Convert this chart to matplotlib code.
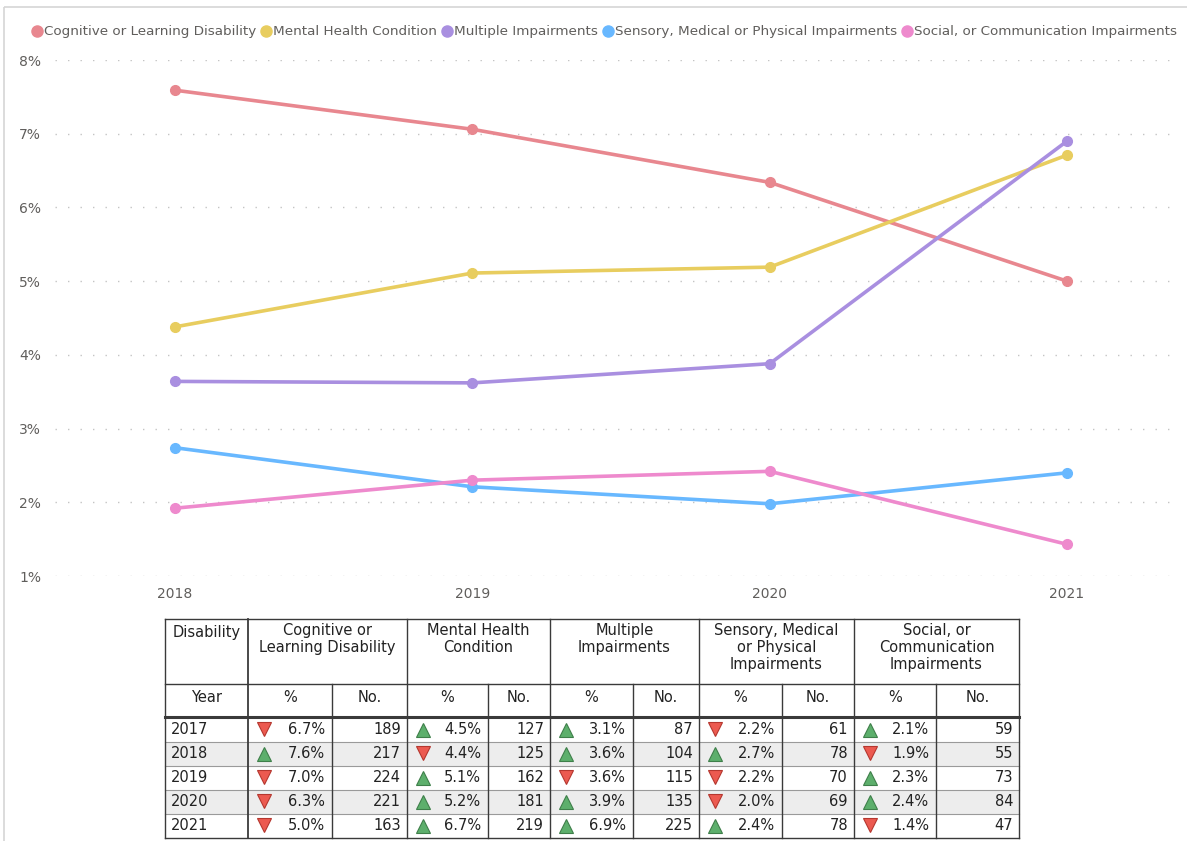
import matplotlib
matplotlib.use('Agg')
import matplotlib.pyplot as plt
from matplotlib.patches import Rectangle

plt.rcParams['font.family'] = ['DejaVu Sans']

years = [2018, 2019, 2020, 2021]
series_names = ['Cognitive or Learning Disability', 'Mental Health Condition', 'Multiple Impairments',
                'Sensory, Medical or Physical Impairments', 'Social, or Communication Impairments']
colors = ['#E8878F', '#E8CD5F', '#A98FE0', '#68B8FF', '#EE8ACD']

cognitive = [7.59, 7.06, 6.34, 5.00]
mental = [4.38, 5.11, 5.19, 6.71]
multiple = [3.64, 3.62, 3.88, 6.90]
sensory = [2.74, 2.21, 1.98, 2.40]
social = [1.92, 2.30, 2.42, 1.43]
series = [cognitive, mental, multiple, sensory, social]

y_ticks = [1, 2, 3, 4, 5, 6, 7, 8]

# table data
table_headers = ['Cognitive or\nLearning Disability', 'Mental Health\nCondition', 'Multiple\nImpairments',
                 'Sensory, Medical\nor Physical\nImpairments', 'Social, or\nCommunication\nImpairments']
table_years = ['2017', '2018', '2019', '2020', '2021']
table_pct = [
    ['6.7%', '4.5%', '3.1%', '2.2%', '2.1%'],
    ['7.6%', '4.4%', '3.6%', '2.7%', '1.9%'],
    ['7.0%', '5.1%', '3.6%', '2.2%', '2.3%'],
    ['6.3%', '5.2%', '3.9%', '2.0%', '2.4%'],
    ['5.0%', '6.7%', '6.9%', '2.4%', '1.4%'],
]
table_no = [
    ['189', '127', '87', '61', '59'],
    ['217', '125', '104', '78', '55'],
    ['224', '162', '115', '70', '73'],
    ['221', '181', '135', '69', '84'],
    ['163', '219', '225', '78', '47'],
]
table_dir = [
    ['down', 'up', 'up', 'down', 'up'],
    ['up', 'down', 'up', 'up', 'down'],
    ['down', 'up', 'down', 'down', 'up'],
    ['down', 'up', 'up', 'down', 'up'],
    ['down', 'up', 'up', 'up', 'down'],
]

W, H = 1187, 841
fig = plt.figure(figsize=(W / 100, H / 100), dpi=100)

# overlay axes in pixel coords for frame, legend and table
bg = fig.add_axes([0, 0, 1, 1])
bg.set_xlim(0, W)
bg.set_ylim(H, 0)
bg.axis('off')
bg.add_patch(Rectangle((4, 7), W, H, fill=False, edgecolor='#D6D6D6', lw=1.2))

# line chart
ax = fig.add_axes([55 / W, 1 - 576 / H, (1180 - 55) / W, (576 - 60) / H])
for name, vals, c in zip(series_names, series, colors):
    ax.plot(years, vals, color=c, lw=2.6, marker='o', ms=7, solid_capstyle='round', zorder=3)
ax.set_ylim(1, 8)
ax.set_xlim(2017.596, 2021.38)
ax.set_yticks(y_ticks)
ax.set_yticklabels([f'{t}%' for t in y_ticks])
ax.set_xticks(years)
ax.set_xticklabels([str(y) for y in years])
ax.grid(axis='y', color='#C4C4C4', lw=1, linestyle=(0, (1, 8)))
ax.set_axisbelow(True)
for s in ax.spines.values():
    s.set_visible(False)
ax.tick_params(length=0, labelsize=10, colors='#605E5C')
ax.tick_params(axis='x', pad=8)
ax.tick_params(axis='y', pad=10)

# legend
fig.canvas.draw()
renderer = fig.canvas.get_renderer()
lx = 37
for name, c in zip(series_names, colors):
    bg.plot(lx, 31, 'o', color=c, ms=8)
    t = bg.text(lx + 7, 31, name, fontsize=9.7, color='#605E5C', va='center', ha='left')
    bb = t.get_window_extent(renderer=renderer)
    lx = bb.x1 + 10

# table
col_x = [165, 248, 332, 407, 488, 550, 633, 699, 782, 854, 936, 1019]
top, h1, h2 = 619, 684, 717
row_h = 24
line_c = '#3A3A3A'
for i in range(len(table_years)):
    y0 = h2 + 1 + i * row_h
    if i % 2 == 1:
        bg.add_patch(Rectangle((col_x[0], y0), col_x[-1] - col_x[0], row_h, color='#EDEDED', lw=0))
bottom = h2 + 1 + len(table_years) * row_h

# horizontal lines
bg.plot([col_x[0], col_x[-1]], [top, top], color=line_c, lw=1)
bg.plot([col_x[0], col_x[-1]], [h1, h1], color=line_c, lw=1)
bg.plot([col_x[0], col_x[-1]], [h2, h2], color=line_c, lw=2.2)
for i in range(1, len(table_years)):
    y0 = h2 + 1 + i * row_h
    bg.plot([col_x[0], col_x[-1]], [y0, y0], color='#9A9A9A', lw=0.8)
bg.plot([col_x[0], col_x[-1]], [bottom, bottom], color=line_c, lw=1)
# vertical lines
for j, x in enumerate(col_x):
    if j in (0, 11) or j % 2 == 1:
        bg.plot([x, x], [top, bottom], color=line_c, lw=1.3 if j == 1 else 1)
    else:
        bg.plot([x, x], [h1, bottom], color=line_c, lw=1)

fs = 10.5
tc = '#222222'
bg.text((col_x[0] + col_x[1]) / 2, 632, 'Disability', ha='center', va='center', fontsize=fs, color=tc)
bg.text((col_x[0] + col_x[1]) / 2, 697, 'Year', ha='center', va='center', fontsize=fs, color=tc)
for k, head in enumerate(table_headers):
    xa, xb, xc = col_x[1 + 2 * k], col_x[2 + 2 * k], col_x[3 + 2 * k]
    bg.text((xa + xc) / 2, 623, head, ha='center', va='top', fontsize=fs, color=tc, linespacing=1.15)
    bg.text((xa + xb) / 2, 697, '%', ha='center', va='center', fontsize=fs, color=tc)
    bg.text((xb + xc) / 2, 697, 'No.', ha='center', va='center', fontsize=fs, color=tc)

for i, yr in enumerate(table_years):
    yc = h2 + 1 + i * row_h + row_h / 2
    bg.text(col_x[0] + 6, yc, yr, ha='left', va='center', fontsize=fs, color=tc)
    for k in range(5):
        xa, xb, xc = col_x[1 + 2 * k], col_x[2 + 2 * k], col_x[3 + 2 * k]
        if table_dir[i][k] == 'up':
            bg.plot(xa + 16, yc, marker='^', ms=10, color='#5DAF6C', mec='#3F7F4A', mew=0.8)
        else:
            bg.plot(xa + 16, yc - 1, marker='v', ms=10, color='#EC5A50', mec='#B5372F', mew=0.8)
        bg.text(xb - 7, yc, table_pct[i][k], ha='right', va='center', fontsize=fs, color=tc)
        bg.text(xc - 6, yc, table_no[i][k], ha='right', va='center', fontsize=fs, color=tc)

fig.savefig('out.png', dpi=100)
